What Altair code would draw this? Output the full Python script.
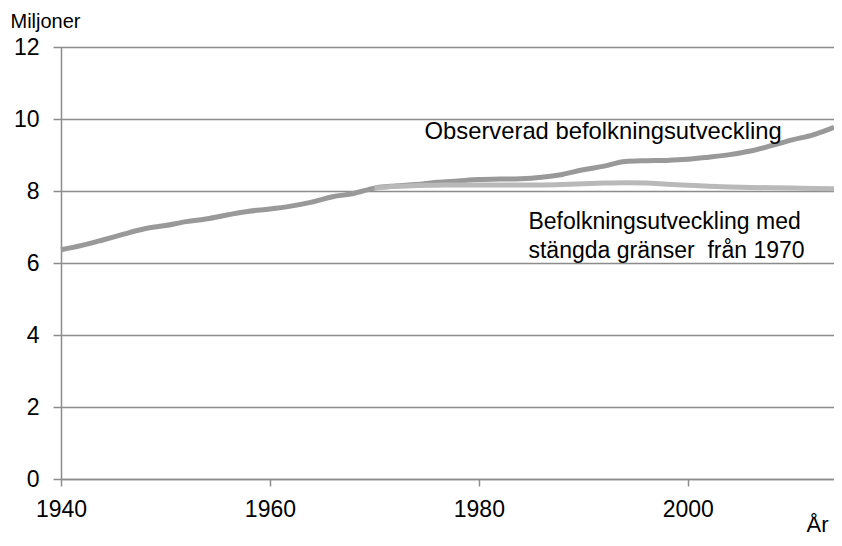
import altair as alt
import pandas as pd

# Observed population (millions)
obs_years = [1940, 1942, 1944, 1946, 1948, 1950, 1952, 1954, 1956, 1958, 1960,
             1962, 1964, 1966, 1968, 1970, 1972, 1974, 1976, 1978, 1980, 1982,
             1984, 1986, 1988, 1990, 1992, 1994, 1996, 1998, 2000, 2002, 2004,
             2006, 2008, 2010, 2012, 2014]
obs_values = [6.37, 6.49, 6.64, 6.80, 6.95, 7.04, 7.15, 7.23, 7.34, 7.44, 7.50,
              7.58, 7.69, 7.84, 7.93, 8.08, 8.14, 8.18, 8.24, 8.28, 8.32, 8.33,
              8.34, 8.38, 8.46, 8.59, 8.69, 8.82, 8.84, 8.85, 8.88, 8.94, 9.01,
              9.11, 9.26, 9.42, 9.56, 9.77]

# Closed borders from 1970 (millions)
closed_years = [1970, 1972, 1974, 1976, 1978, 1980, 1982, 1984, 1986, 1988, 1990,
                1992, 1994, 1996, 1998, 2000, 2002, 2004, 2006, 2008, 2010, 2012, 2014]
closed_values = [8.08, 8.13, 8.15, 8.16, 8.17, 8.17, 8.17, 8.17, 8.17, 8.18, 8.20,
                 8.22, 8.23, 8.22, 8.19, 8.16, 8.13, 8.11, 8.10, 8.09, 8.08, 8.07, 8.06]

x_ticks = [1940, 1960, 1980, 2000]
y_ticks = [0, 2, 4, 6, 8, 10, 12]

label_obs = "Observerad befolkningsutveckling"
label_closed = ["Befolkningsutveckling med", "stängda gränser\u00a0 från 1970"]

obs_df = pd.DataFrame({"year": obs_years, "value": obs_values})
closed_df = pd.DataFrame({"year": closed_years, "value": closed_values})

FONT = "Liberation Sans"
GRID = "#8c8c8c"

xscale = alt.Scale(domain=[1940, 2014], nice=False, zero=False)
yscale = alt.Scale(domain=[0, 12], nice=False)

x_enc = alt.X("year:Q", scale=xscale,
              axis=alt.Axis(values=x_ticks, format="d", grid=False, tickSize=7,
                            labelPadding=12, labelFontSize=23, labelFont=FONT,
                            labelColor="#000000", domainColor=GRID, tickColor=GRID,
                            domainWidth=1.5, tickWidth=1.5,
                            title="År", titleFont=FONT, titleFontSize=22,
                            titleFontWeight="normal", titleColor="#000000",
                            titleAngle=0, titleAlign="right", titleBaseline="alphabetic",
                            titleX=767, titleY=52, labelFlush=False))
y_enc = alt.Y("value:Q", scale=yscale,
              axis=alt.Axis(values=y_ticks, grid=True, gridColor=GRID, gridWidth=1.5,
                            tickSize=8, labelPadding=14, labelFontSize=23,
                            labelFont=FONT, labelColor="#000000", domainColor=GRID,
                            tickColor=GRID, domainWidth=1.5, tickWidth=1.5,
                            title="Miljoner", titleFont=FONT, titleFontSize=20,
                            titleFontWeight="normal", titleColor="#000000",
                            titleAngle=0, titleAlign="left", titleBaseline="alphabetic",
                            titleX=-51, titleY=-20, labelFlush=False))

obs_line = alt.Chart(obs_df).mark_line(
    color="#999999", strokeWidth=5, interpolate="monotone"
).encode(x=x_enc, y=y_enc)

closed_line = alt.Chart(closed_df).mark_line(
    color="#b9b9b9", strokeWidth=5, interpolate="monotone"
).encode(x="year:Q", y="value:Q")

text_obs = alt.Chart().mark_text(
    align="left", baseline="alphabetic", font=FONT, fontSize=23.8, color="#000000"
).encode(x=alt.datum(1974.8), y=alt.datum(9.44), text=alt.value(label_obs))

text_closed = alt.Chart().mark_text(
    align="left", baseline="alphabetic", font=FONT, fontSize=23, color="#000000",
    lineHeight=29
).encode(x=alt.datum(1984.75), y=alt.datum(6.94), text=alt.value(label_closed))

chart = alt.layer(obs_line, closed_line, text_obs, text_closed).properties(
    width=773, height=432,
    autosize=alt.AutoSizeParams(type="none"),
    padding={"left": 53, "top": 39, "right": 0, "bottom": 59},
).configure_view(stroke=None).configure(background="white")

chart.save("out.html", embed_options={"renderer": "svg", "actions": False})
